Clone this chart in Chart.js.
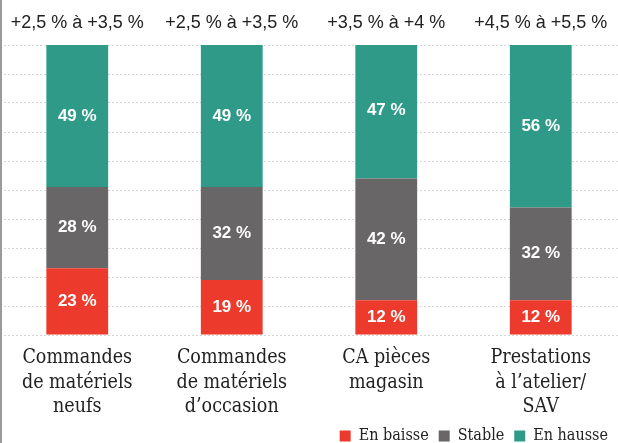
<!DOCTYPE html>
<html>
<head>
<meta charset="utf-8">
<script src="https://cdn.jsdelivr.net/npm/chart.js@4/dist/chart.umd.min.js"></script>
<style>
html,body{margin:0;padding:0;background:#fff;}
#wrap{width:618px;height:443px;position:relative;}
</style>
</head>
<body>
<div id="wrap"><canvas id="c" width="618" height="443"></canvas></div>
<script>
/* data */
const categories = [
  ["Commandes","de matériels","neufs"],
  ["Commandes","de matériels","d\u2019occasion"],
  ["CA pièces","magasin"],
  ["Prestations","à l\u2019atelier/","SAV"]
];
const ranges = ["+2,5 % à +3,5 %","+2,5 % à +3,5 %","+3,5 % à +4 %","+4,5 % à +5,5 %"];
const enBaisse = [23,19,12,12];
const stable   = [28,32,42,32];
const enHausse = [49,49,47,56];

const RED="#ec3a2c", GREY="#686666", TEAL="#2e9a87";
const serif = "'DejaVu Serif Condensed','DejaVu Serif',serif";

const valueLabels = {
  id:"valueLabels",
  afterLayout(chart){
    // pull the legend back up onto the canvas, below the category labels
    const l=chart.legend;
    if(l){ l.top-=12; l.bottom-=12; }
  },
  afterDatasetsDraw(chart){
    const ctx=chart.ctx;
    ctx.save();
    ctx.fillStyle="#fff";
    ctx.font="bold 17px 'Liberation Sans Narrow','Liberation Sans',sans-serif";
    ctx.textAlign="center"; ctx.textBaseline="middle";
    chart.data.datasets.forEach((ds,i)=>{
      chart.getDatasetMeta(i).data.forEach((bar,j)=>{
        const mid=(bar.y+bar.base)/2;
        ctx.fillText(ds.data[j]+" %",bar.x,mid);
      });
    });
    // range labels above each bar
    ctx.fillStyle="#222";
    ctx.font="18px 'Liberation Sans',Arial,sans-serif";
    const m=chart.getDatasetMeta(0);
    m.data.forEach((bar,j)=>ctx.fillText(ranges[j],bar.x,23));
    // scan edge on the left
    ctx.fillStyle="#9a9a9a";
    ctx.fillRect(0,0,2,chart.height);
    ctx.restore();
  }
};

new Chart(document.getElementById("c"),{
  type:"bar",
  data:{
    labels:categories,
    datasets:[
      {label:"En baisse",data:enBaisse,backgroundColor:RED},
      {label:"Stable",data:stable,backgroundColor:GREY},
      {label:"En hausse",data:enHausse,backgroundColor:TEAL}
    ]
  },
  options:{
    responsive:false,
    animation:false,
    layout:{padding:{top:45,left:0,right:0,bottom:-23}},
    datasets:{bar:{barPercentage:0.4,categoryPercentage:1}},
    scales:{
      x:{stacked:true,
         grid:{display:false},border:{display:false},
         afterFit(s){s.height=95;},
         ticks:{color:"#222",maxRotation:0,autoSkip:false,padding:2,
                font:{family:serif,size:19.5,lineHeight:1.28}}},
      y:{stacked:true,min:0,max:100,
         grid:{color:"#d6d6d6",lineWidth:1,drawTicks:false},
         border:{display:false,dash:[2,2]},
         ticks:{display:false,stepSize:10}}
    },
    plugins:{
      legend:{position:"bottom",align:"end",
        labels:{boxWidth:11,boxHeight:11,padding:10,color:"#222",
                font:{family:serif,size:16,lineHeight:1}}},
      tooltip:{enabled:false}
    }
  },
  plugins:[valueLabels]
});
</script>
</body>
</html>
